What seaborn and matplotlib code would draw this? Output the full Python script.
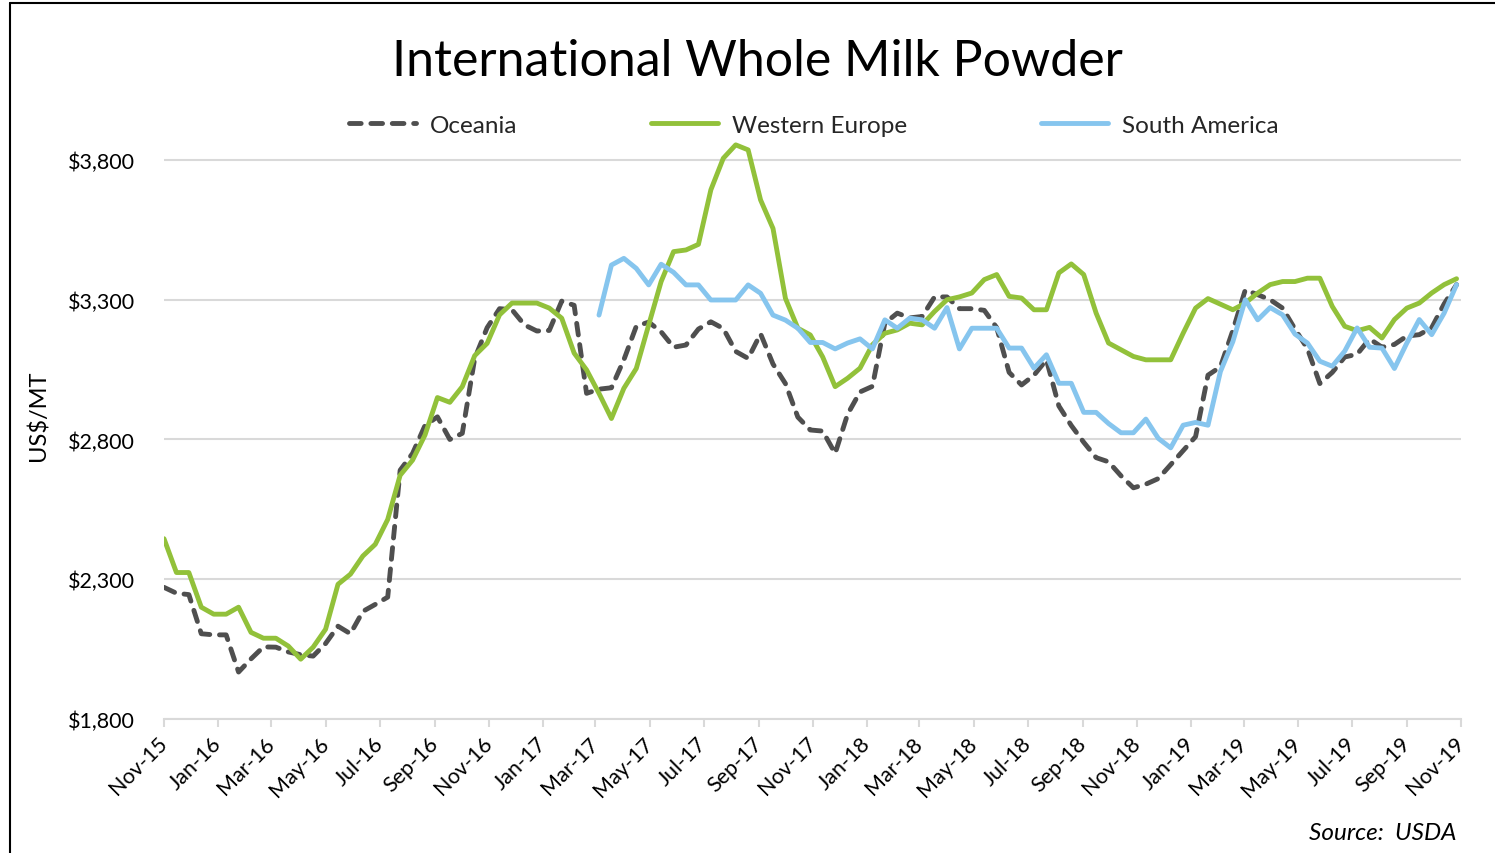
import matplotlib
matplotlib.use("Agg")
import matplotlib.pyplot as plt
import matplotlib.dates as mdates
from matplotlib.lines import Line2D
from matplotlib.ticker import FuncFormatter
import seaborn as sns
import pandas as pd
import numpy as np

# ---------------- data ----------------
start_date = "2015-11-01"
n_points = 105
sa_start_index = 35

oceania = [2271, 2250, 2245, 2105, 2101, 2101, 1968, 2015, 2058, 2057,
           2040, 2030, 2025, 2070, 2132, 2105, 2185, 2210, 2236, 2690,
           2750, 2850, 2881, 2800, 2822, 3090, 3200, 3268, 3264, 3210,
           3188, 3190, 3295, 3280, 2965, 2980, 2985, 3085, 3205, 3220,
           3185, 3130, 3138, 3195, 3221, 3197, 3115, 3090, 3178, 3070,
           3000, 2880, 2834, 2830, 2750, 2890, 2970, 2990, 3216, 3252,
           3235, 3240, 3310, 3310, 3268, 3268, 3262, 3200, 3040, 2995,
           3030, 3085, 2920, 2850, 2790, 2735, 2720, 2670, 2627, 2640,
           2660, 2710, 2760, 2810, 3030, 3060, 3190, 3335, 3318, 3300,
           3270, 3195, 3125, 3000, 3040, 3095, 3105, 3160, 3130, 3140,
           3170, 3175, 3200, 3285, 3354]

western_europe = [2445, 2324, 2324, 2200, 2175, 2175, 2200, 2110, 2089, 2089,
                  2061, 2014, 2057, 2121, 2282, 2318, 2383, 2425, 2514, 2672,
                  2726, 2816, 2950, 2933, 2989, 3100, 3144, 3246, 3288, 3288,
                  3288, 3270, 3234, 3109, 3049, 2965, 2875, 2983, 3054, 3210,
                  3365, 3472, 3478, 3498, 3693, 3806, 3854, 3836, 3657, 3555,
                  3305, 3198, 3174, 3095, 2989, 3019, 3055, 3139, 3180, 3192,
                  3216, 3210, 3258, 3300, 3310, 3324, 3372, 3390, 3312, 3306,
                  3264, 3264, 3396, 3428, 3390, 3252, 3145, 3121, 3097, 3085,
                  3085, 3085, 3180, 3270, 3304, 3284, 3264, 3288, 3324, 3354,
                  3365, 3365, 3377, 3377, 3276, 3205, 3189, 3201, 3163, 3229,
                  3270, 3288, 3324, 3354, 3375]

south_america = [3245, 3424, 3448, 3412, 3353, 3427, 3398, 3353, 3353, 3299,
                 3299, 3299, 3353, 3323, 3245, 3227, 3198, 3147, 3147, 3124,
                 3145, 3160, 3124, 3228, 3198, 3234, 3228, 3198, 3272, 3124,
                 3198, 3198, 3198, 3127, 3127, 3055, 3103, 3001, 3001, 2897,
                 2897, 2857, 2824, 2824, 2873, 2804, 2770, 2851, 2861, 2851,
                 3043, 3150, 3300, 3228, 3272, 3246, 3177, 3145, 3080, 3062,
                 3116, 3199, 3130, 3127, 3054, 3145, 3229, 3175, 3252, 3354]

series_names = ["Oceania", "Western Europe", "South America"]
y_ticks = [1800, 2300, 2800, 3300, 3800]

dates = pd.date_range(start_date, periods=n_points, freq="14D")

# ---------------- style ----------------
sns.set_theme(style="white")
plt.rcParams["font.family"] = ["Lato", "DejaVu Sans"]

W, H = 1495, 854
fig = plt.figure(figsize=(W / 100, H / 100), dpi=100)
ax = fig.add_axes([164 / W, 1 - 720 / H, (1461 - 164) / W, (720 - 133) / H])

c_oce = "#4f4f4f"
c_we = "#92c13a"
c_sa = "#86c5ee"
lw = 3.5

sns.lineplot(x=dates, y=oceania, ax=ax, color=c_oce, linewidth=lw, label=series_names[0])
sns.lineplot(x=dates, y=western_europe, ax=ax, color=c_we, linewidth=lw, label=series_names[1])
sns.lineplot(x=dates[sa_start_index:], y=south_america, ax=ax, color=c_sa, linewidth=lw,
             label=series_names[2])

lines = ax.get_lines()
lines[0].set_linestyle((0, (2.4, 2.0)))
lines[0].set_dash_capstyle("round")
lines[0].set_dash_joinstyle("round")
for ln in lines[1:]:
    ln.set_solid_capstyle("round")
    ln.set_solid_joinstyle("round")

ax.get_legend().remove()

# axes
ax.set_xlim(pd.Timestamp("2015-11-01"), pd.Timestamp("2019-11-01"))
ax.set_ylim(1800, 3900)
ax.set_yticks(y_ticks)
ax.yaxis.set_major_formatter(FuncFormatter(lambda v, p: f"${v:,.0f}"))
ax.xaxis.set_major_locator(mdates.MonthLocator(bymonth=[1, 3, 5, 7, 9, 11]))
ax.xaxis.set_major_formatter(mdates.DateFormatter("%b-%y"))

ax.grid(axis="y", color="#d9d9d9", linewidth=1.5)
ax.grid(axis="x", visible=False)
for s in ["left", "right", "top"]:
    ax.spines[s].set_visible(False)
ax.spines["bottom"].set_color("#d9d9d9")
ax.spines["bottom"].set_linewidth(1.5)

ax.tick_params(axis="y", length=0, labelsize=15.5, pad=21, labelcolor="#000000")
ax.tick_params(axis="x", bottom=True, length=6, width=1.5, color="#d9d9d9",
               direction="out", labelsize=15.5, pad=9, labelcolor="#000000")
for lab in ax.get_xticklabels():
    lab.set_rotation(45)
    lab.set_ha("right")
    lab.set_va("center")
    lab.set_rotation_mode("anchor")

ax.set_xlabel("")
ax.set_ylabel("")

# texts
fig.text(757 / W, 1 - 62 / H, "International Whole Milk Powder", ha="center", va="center",
         fontsize=36, color="#000000")
fig.text(38 / W, 1 - 416 / H, "US$/MT", rotation=90, ha="center", va="center",
         fontsize=17, color="#000000")
fig.text(1456 / W, 1 - 834 / H, "Source:  USDA", ha="right", va="center",
         fontsize=17.5, style="italic", color="#000000")

fig.legend(lines, series_names, loc="center", bbox_to_anchor=(814 / W, 1 - 126 / H),
           ncol=3, frameon=False, fontsize=17.5, handlelength=2.75, handletextpad=0.58,
           columnspacing=5.5)

# frame lines of the original chart
fig.add_artist(Line2D([10 / W, 10 / W], [0, 1 - 4 / H], transform=fig.transFigure,
                      color="black", linewidth=1.5))
fig.add_artist(Line2D([10 / W, 1], [1 - 4 / H, 1 - 4 / H], transform=fig.transFigure,
                      color="black", linewidth=1.5))

fig.savefig("out.png", dpi=100)
